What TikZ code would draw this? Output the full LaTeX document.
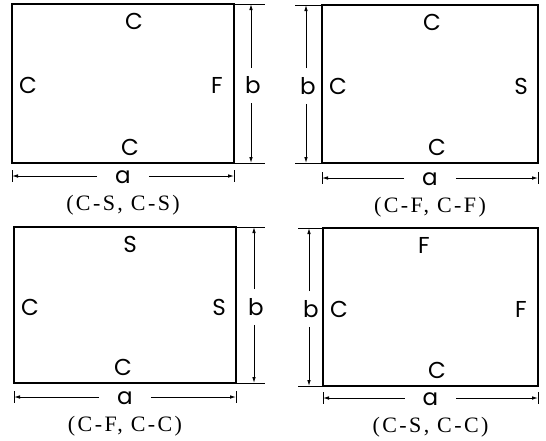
\documentclass[tikz,border=0pt]{standalone}
\usepackage{fontspec}
\setmainfont{Liberation Serif}
\newfontfamily\bcfont{Poppins}
\newfontfamily\captfont[LetterSpace=11]{Liberation Serif}
\usetikzlibrary{arrows.meta}
\tikzset{
  >={Latex[length=6pt,width=3.6pt]},
  plate/.style={draw, line width=1.6pt},
  bcl/.style={font=\bcfont\fontsize{23}{23}\selectfont, inner sep=0pt},
  dimlbl/.style={font=\bcfont\fontsize{23}{23}\selectfont, inner sep=2pt},
  dimline/.style={->, line width=0.9pt},
  extline/.style={line width=0.9pt},
  capt/.style={font=\captfont\fontsize{22}{22}\selectfont, inner sep=0pt},
}
\begin{document}
\begin{tikzpicture}[x=1pt,y=-1pt]
  \useasboundingbox (0,0) rectangle (546,440);
  % four plates: corners, b side, a line, boundary letters, caption
  \foreach \n/\xl/\yt/\xr/\yb/\xs/\xd/\xe/\ay/\tx/\bx/\Tb/\Lb/\Rb/\Bb/\txt in {
      1/12/4/234/163/234/251/265/176/134/130/C/C/F/C/{(C-S, C-S)},
      2/322/5/538/163/322/306/295/178/432/437/C/C/S/C/{(C-F, C-F)},
      3/14/227/236/383/236/254/265/397/130/123/S/C/S/C/{(C-F, C-C)},
      4/323/228/538/386/323/309/298/398/424/437/F/C/F/C/{(C-S, C-C)}}{
    \draw[plate] (\xl,\yt) rectangle (\xr,\yb);
    \node[bcl] (t\n) at (\tx,\yt+17) {\Tb};
    \node[bcl] (l\n) at (\xl+16,{(\yt+\yb)/2+2}) {\Lb};
    \node[bcl] (r\n) at (\xr-17,{(\yt+\yb)/2+2}) {\Rb};
    \node[bcl] (bt\n) at (\bx,\yb-16) {\Bb};
    % dimension b
    \draw[extline] (\xs,\yt) -- (\xe,\yt);
    \draw[extline] (\xs,\yb) -- (\xe,\yb);
    \coordinate (bu\n) at (\xd,\yt);
    \coordinate (bd\n) at (\xd,\yb);
    \node[dimlbl,inner ysep=9pt] (b\n) at (\xd+2,{(\yt+\yb)/2+2}) {b};
    \draw[dimline] (b\n.north -| bu\n) -- (bu\n);
    \draw[dimline] (b\n.south -| bd\n) -- (bd\n);
    % dimension a
    \coordinate (al\n) at (\xl,\ay);
    \coordinate (ar\n) at (\xr,\ay);
    \draw[extline] (\xl,\ay-6) -- (\xl,\ay+6);
    \draw[extline] (\xr,\ay-6) -- (\xr,\ay+6);
    \node[dimlbl,inner xsep=18pt] (a\n) at ({(\xl+\xr)/2},\ay+1) {a};
    \draw[dimline] (a\n.west |- al\n) -- (al\n);
    \draw[dimline] (a\n.east |- ar\n) -- (ar\n);
    \node[capt] (c\n) at ({(\xl+\xr)/2},\ay+29) {\txt};
  }
\end{tikzpicture}
\end{document}
